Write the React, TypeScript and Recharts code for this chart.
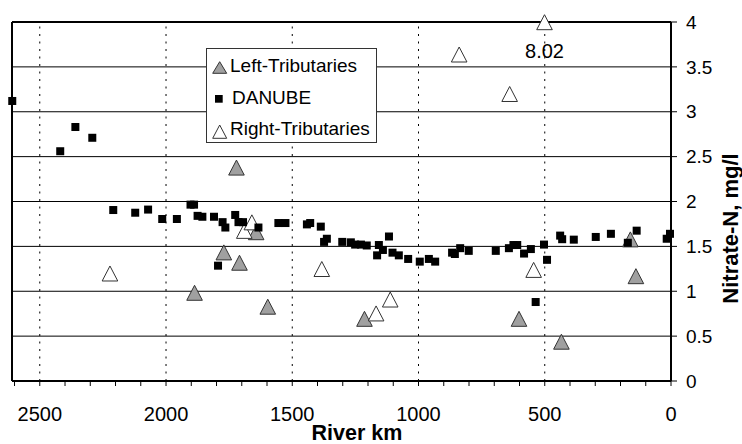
import React from 'react';
import {
  ScatterChart,
  Scatter,
  XAxis,
  YAxis,
  CartesianGrid,
  ReferenceLine,
  ReferenceDot,
  Legend,
} from 'recharts';

const FONT = "Arial, 'Liberation Sans', sans-serif";

// DANUBE main stem (river km, nitrate-N mg/l)
const danubeKm = [
  2609, 2419, 2359, 2292, 2209, 2122, 2071, 2015, 1957, 1903, 1889, 1875, 1856, 1810, 1794,
  1776, 1765, 1726, 1713, 1695, 1634, 1555, 1527, 1442, 1429, 1387, 1374, 1363, 1302, 1268,
  1251, 1228, 1205, 1164, 1157, 1141, 1117, 1103, 1078, 1041, 995, 959, 934, 867, 856, 835,
  801, 694, 642, 624, 609, 582, 555, 536, 503, 491, 439, 431, 385, 298, 238, 171, 136, 17, 4,
];
const danubeN = [
  3.12, 2.56, 2.83, 2.71, 1.905, 1.875, 1.91, 1.805, 1.805, 1.965, 1.965, 1.84, 1.83, 1.83, 1.285,
  1.77, 1.71, 1.85, 1.77, 1.77, 1.71, 1.76, 1.76, 1.745, 1.76, 1.72, 1.55, 1.585, 1.55, 1.545,
  1.52, 1.52, 1.51, 1.4, 1.515, 1.46, 1.61, 1.43, 1.4, 1.36, 1.33, 1.36, 1.33, 1.43, 1.415, 1.48,
  1.45, 1.45, 1.48, 1.515, 1.515, 1.42, 1.47, 0.88, 1.52, 1.35, 1.62, 1.58, 1.575, 1.605, 1.64, 1.54, 1.675, 1.585, 1.64,
];

// Left tributaries
const leftKm = [1887, 1771, 1721, 1709, 1643, 1597, 1214, 602, 434, 161, 139];
const leftN = [0.955, 1.405, 2.35, 1.29, 1.63, 0.8, 0.665, 0.665, 0.41, 1.55, 1.14];

// Right tributaries (last one is off-scale: actual 8.02, drawn at the top)
const rightKm = [2222, 1690, 1660, 1383, 1168, 1112, 839, 639, 544, 501];
const rightN = [1.17, 1.645, 1.74, 1.22, 0.725, 0.88, 3.61, 3.17, 1.21, 3.97];
const outlierLabel = '8.02';

const legendNames = ['Left-Tributaries', 'DANUBE', 'Right-Tributaries'];

const xTicks = [
  0, 100, 200, 300, 400, 500, 600, 700, 800, 900, 1000, 1100, 1200, 1300, 1400, 1500, 1600,
  1700, 1800, 1900, 2000, 2100, 2200, 2300, 2400, 2500, 2600,
];
const xMajor = [2500, 2000, 1500, 1000, 500];
const yTicks = [0, 0.5, 1, 1.5, 2, 2.5, 3, 3.5, 4];

const toPoints = (km: number[], n: number[]) => km.map((k, i) => ({ km: k, n: n[i] }));
const danubeData = toPoints(danubeKm, danubeN);
const leftData = toPoints(leftKm, leftN);
const rightData = toPoints(rightKm, rightN);

const GRAY = '#a0a0a0';

const SquareShape = (p: any) => (
  <rect x={p.cx - 4} y={p.cy - 4} width={8} height={8} fill="#000" />
);

const triPath = (cx: number, cy: number) =>
  `M${cx},${cy - 10} L${cx + 7.8},${cy + 5} L${cx - 7.8},${cy + 5} Z`;

const GrayTri = (p: any) => (
  <path d={triPath(p.cx, p.cy)} fill={GRAY} stroke="#333" strokeWidth={1} />
);
const WhiteTri = (p: any) => (
  <path d={triPath(p.cx, p.cy)} fill="#fff" stroke="#333" strokeWidth={1} />
);

const LegendBox = () => (
  <div
    style={{
      width: 171,
      height: 95,
      border: '1px solid #333',
      background: '#fff',
      boxSizing: 'border-box',
      position: 'relative',
    }}
  >
    <svg width={171} height={95} style={{ position: 'absolute', left: -1, top: -1 }}>
      <path d="M13.7,13.7 L20.7,25.3 L6.7,25.3 Z" fill={GRAY} stroke="#333" strokeWidth={1} />
      <rect x={9} y={47} width={7.7} height={7.7} fill="#000" />
      <path d="M13.7,77 L20.7,90.3 L6.7,90.3 Z" fill="#fff" stroke="#333" strokeWidth={1} />
      <text x={24} y={24} fontFamily={FONT} fontSize={19} fill="#000">{legendNames[0]}</text>
      <text x={26} y={55.5} fontFamily={FONT} fontSize={19} fill="#000">{legendNames[1]}</text>
      <text x={24} y={87} fontFamily={FONT} fontSize={19} fill="#000">{legendNames[2]}</text>
    </svg>
  </div>
);

const XTitle = (props: any) => {
  const vb = props.viewBox || { x: 12, y: 381, width: 659, height: 63 };
  return (
    <text
      x={vb.x + vb.width / 2 + 15.5}
      y={vb.y + 58.5}
      textAnchor="middle"
      fontFamily={FONT}
      fontSize={21.5}
      fontWeight="bold"
      fill="#000"
    >
      River km
    </text>
  );
};

const YTitle = (props: any) => {
  const vb = props.viewBox || { x: 671, y: 22, width: 71, height: 359 };
  const x = vb.x + 67;
  const y = vb.y + vb.height / 2 + 27;
  return (
    <text
      x={x}
      y={y}
      transform={`rotate(-90, ${x}, ${y})`}
      textAnchor="middle"
      fontFamily={FONT}
      fontSize={22}
      fontWeight="bold"
      fill="#000"
    >
      Nitrate-N, mg/l
    </text>
  );
};

export default function App() {
  return (
    <div style={{ position: 'absolute', left: 0, top: 0, width: 742, height: 444, background: '#fff' }}>
      <ScatterChart
        width={742}
        height={444}
        margin={{ top: 22, right: 0, bottom: 0, left: 12 }}
      >
        <CartesianGrid vertical={false} stroke="#000" strokeWidth={1} />
        <XAxis
          type="number"
          dataKey="km"
          domain={[0, 2610]}
          reversed
          ticks={xTicks}
          interval={0}
          height={63}
          tickSize={5}
          tickMargin={21}
          tickFormatter={(v: number) => (v % 500 === 0 && v !== 2600 ? String(v) : '')}
          axisLine={{ stroke: '#000', strokeWidth: 2 }}
          tickLine={{ stroke: '#000', strokeWidth: 1 }}
          tick={{ fill: '#000', fontSize: 20, fontFamily: FONT }}
          label={<XTitle />}
        />
        <YAxis
          type="number"
          dataKey="n"
          orientation="right"
          domain={[0, 4]}
          ticks={yTicks}
          interval={0}
          width={71}
          tickSize={6}
          tickMargin={9}
          axisLine={{ stroke: '#000', strokeWidth: 2 }}
          tickLine={{ stroke: '#000', strokeWidth: 1 }}
          tick={{ fill: '#000', fontSize: 19, fontFamily: FONT, textAnchor: 'start' }}
          label={<YTitle />}
        />
        {xMajor.map((v) => (
          <ReferenceLine key={v} x={v} stroke="#000" strokeWidth={1} strokeDasharray="2 5.5" />
        ))}
        <ReferenceLine y={4} stroke="#000" strokeWidth={2} />
        <ReferenceLine x={2610} stroke="#000" strokeWidth={2} />
        <Legend
          layout="vertical"
          align="center"
          verticalAlign="middle"
          content={() => <LegendBox />}
          wrapperStyle={{ position: 'absolute', left: 206, top: 48, width: 171, height: 95 }}
        />
        <Scatter name="Left-Tributaries" data={leftData} shape={GrayTri} isAnimationActive={false} />
        <Scatter name="Right-Tributaries" data={rightData} shape={WhiteTri} isAnimationActive={false} />
        <Scatter name="DANUBE" data={danubeData} shape={SquareShape} isAnimationActive={false} />
        <ReferenceDot
          x={rightKm[rightKm.length - 1]}
          y={rightN[rightN.length - 1]}
          r={0}
          ifOverflow="visible"
          label={{
            value: outlierLabel,
            position: 'bottom',
            offset: 19,
            fill: '#000',
            fontSize: 20,
            fontFamily: FONT,
          }}
        />
      </ScatterChart>
    </div>
  );
}
